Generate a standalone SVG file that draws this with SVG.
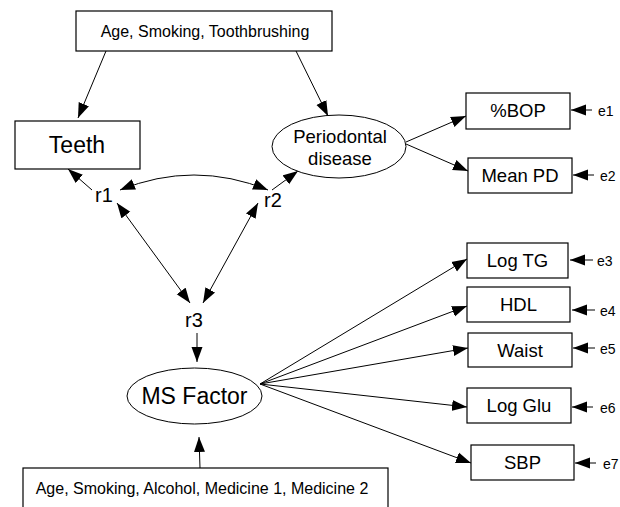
<svg xmlns="http://www.w3.org/2000/svg" width="620" height="507" viewBox="0 0 620 507">
<defs>
<marker id="ah" markerUnits="userSpaceOnUse" markerWidth="16" markerHeight="12" refX="15" refY="6" orient="auto-start-reverse" viewBox="0 0 16 12">
<path d="M0,0.5 L15,6 L0,11.5 z" fill="#000"/>
</marker>
<style>
.box{fill:#fff;stroke:#000;stroke-width:1.2}
.ell{fill:#fff;stroke:#000;stroke-width:1}
.ln{fill:none;stroke:#000;stroke-width:1;marker-end:url(#ah)}
.dbl{fill:none;stroke:#000;stroke-width:1;marker-end:url(#ah);marker-start:url(#ah)}
text{font-family:"Liberation Sans",Arial,sans-serif;fill:#000;text-anchor:middle}
.s16{font-size:16px}
.s18{font-size:18.5px}
.s20{font-size:20px}
.s23{font-size:23px}
.e{font-size:14px;text-anchor:start}
</style>
</defs>
<rect width="620" height="507" fill="#fff"/>
<g id="connectors">
<line class="ln" x1="106" y1="51" x2="78" y2="118"/>
<line class="ln" x1="296" y1="51" x2="328" y2="116"/>
<line class="ln" x1="406" y1="142" x2="466" y2="116"/>
<line class="ln" x1="406" y1="144" x2="468" y2="171"/>
<line class="ln" x1="592" y1="110" x2="571" y2="110"/>
<line class="ln" x1="594" y1="175" x2="573" y2="175"/>
<line class="ln" x1="92" y1="190" x2="68" y2="169"/>
<path class="dbl" d="M120,190 Q194,160 268,190"/>
<line class="ln" x1="272" y1="190" x2="298" y2="171"/>
<line class="dbl" x1="117" y1="203" x2="190" y2="303"/>
<line class="dbl" x1="258" y1="203" x2="203" y2="303"/>
<line class="ln" x1="197" y1="333" x2="197" y2="362"/>
<line class="ln" x1="200" y1="468" x2="199" y2="437"/>
<line class="ln" x1="260" y1="384" x2="467" y2="259"/>
<line class="ln" x1="260" y1="384" x2="467" y2="306"/>
<line class="ln" x1="260" y1="384" x2="468" y2="348"/>
<line class="ln" x1="260" y1="384" x2="467" y2="407"/>
<line class="ln" x1="260" y1="384" x2="471" y2="463"/>
<line class="ln" x1="593" y1="260" x2="570" y2="260"/>
<line class="ln" x1="595" y1="310" x2="572" y2="310"/>
<line class="ln" x1="595" y1="348" x2="573" y2="348"/>
<line class="ln" x1="593" y1="407" x2="572" y2="407"/>
<line class="ln" x1="596" y1="463" x2="575" y2="463"/>
</g>
<g id="cov-top"><rect class="box" x="76" y="11" width="256" height="40"/><text class="s16" x="205" y="37">Age, Smoking, Toothbrushing</text></g>
<g id="teeth"><rect class="box" x="15" y="121" width="125" height="48"/><text class="s23" x="77" y="153">Teeth</text></g>
<g id="perio"><ellipse class="ell" cx="339" cy="146.5" rx="67" ry="31.5"/><text class="s18" x="340" y="143">Periodontal</text><text class="s18" x="340" y="165">disease</text></g>
<g id="bop"><rect class="box" x="466" y="93" width="104" height="36"/><text class="s18" x="518" y="117">%BOP</text></g>
<g id="meanpd"><rect class="box" x="468" y="158" width="104" height="35"/><text class="s18" x="520" y="182">Mean PD</text></g>
<g id="r1"><text class="s20" x="104" y="202">r1</text></g>
<g id="r2"><text class="s20" x="273" y="207">r2</text></g>
<g id="r3"><text class="s20" x="194" y="327">r3</text></g>
<g id="msfactor"><ellipse class="ell" cx="194.5" cy="396" rx="67.5" ry="28"/><text class="s23" x="194.5" y="404">MS Factor</text></g>
<g id="cov-bottom"><rect class="box" x="23" y="468" width="365" height="45"/><text class="s16" x="202" y="494">Age, Smoking, Alcohol, Medicine 1, Medicine 2</text></g>
<g id="logtg"><rect class="box" x="467" y="243" width="101" height="35"/><text class="s18" x="517.5" y="267">Log TG</text></g>
<g id="hdl"><rect class="box" x="467" y="287" width="103" height="35"/><text class="s18" x="518.5" y="311">HDL</text></g>
<g id="waist"><rect class="box" x="468" y="333" width="104" height="34"/><text class="s18" x="520" y="357">Waist</text></g>
<g id="logglu"><rect class="box" x="467" y="388" width="104" height="35"/><text class="s18" x="519" y="412">Log Glu</text></g>
<g id="sbp"><rect class="box" x="471" y="445" width="103" height="35"/><text class="s18" x="522.5" y="469">SBP</text></g>
<g id="errors">
<text class="e" x="598" y="116">e1</text>
<text class="e" x="600" y="181">e2</text>
<text class="e" x="597" y="266">e3</text>
<text class="e" x="600" y="316">e4</text>
<text class="e" x="600" y="354">e5</text>
<text class="e" x="600" y="413">e6</text>
<text class="e" x="603" y="469">e7</text>
</g>
</svg>
